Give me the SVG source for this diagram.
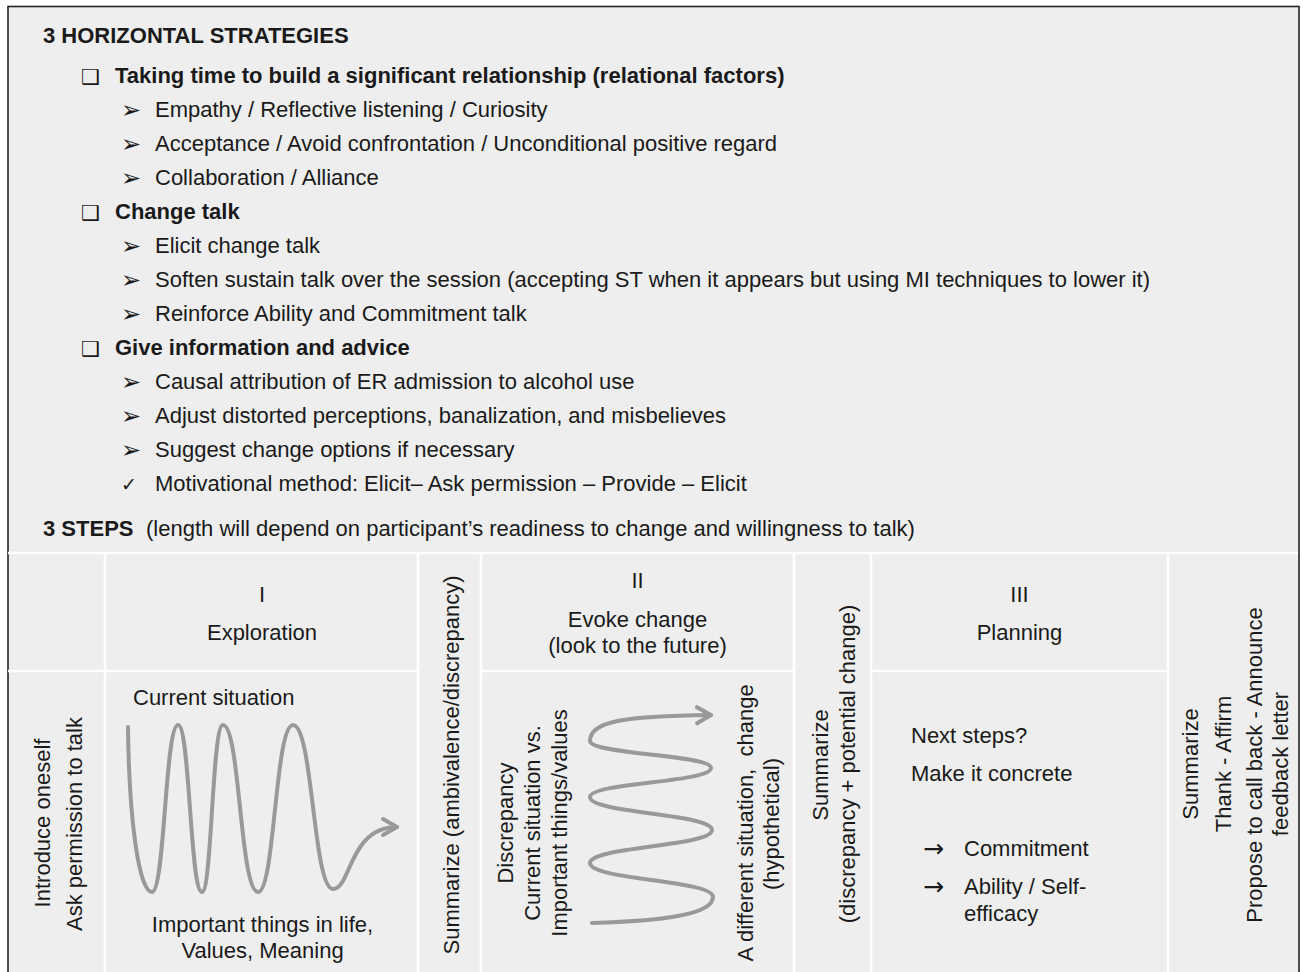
<svg xmlns="http://www.w3.org/2000/svg" width="1303" height="972" viewBox="0 0 1303 972">
<defs>
<style>
.t{font-family:"Liberation Sans",Arial,sans-serif;font-size:22px;fill:#1a1a1a}
.b{font-weight:bold}
.m{text-anchor:middle}
.sym{font-family:"DejaVu Sans",sans-serif;fill:#1a1a1a}
.box{font-size:21px}
.arw{font-size:24px}
.grid{stroke:#ffffff;stroke-width:2.5;fill:none}
.wave{fill:none;stroke:#999999;stroke-width:4;stroke-linecap:round;stroke-linejoin:round}
</style>
<marker id="arr" markerUnits="userSpaceOnUse" markerWidth="24" markerHeight="24" refX="16" refY="10" orient="auto" overflow="visible">
<path d="M2,2 L16,10 L2,18" fill="none" stroke="#999999" stroke-width="4" stroke-linecap="round" stroke-linejoin="round"/>
</marker>
</defs>
<rect x="0" y="0" width="1303" height="972" fill="#ffffff"/>
<rect x="8" y="6.5" width="1291" height="990" fill="#eeeeee" stroke="#222222" stroke-width="1.6"/>

<g id="strategies">
<text class="t b" x="43" y="42.5">3 HORIZONTAL STRATEGIES</text>
<g id="relational">
<text class="sym box" x="81" y="84">❑</text>
<text class="t b" x="115" y="83">Taking time to build a significant relationship (relational factors)</text>
<text class="sym arw" x="121" y="118">➢</text>
<text class="t" x="155" y="117">Empathy / Reflective listening / Curiosity</text>
<text class="sym arw" x="121" y="152">➢</text>
<text class="t" x="155" y="151">Acceptance / Avoid confrontation / Unconditional positive regard</text>
<text class="sym arw" x="121" y="186">➢</text>
<text class="t" x="155" y="185">Collaboration / Alliance</text>
</g>
<g id="changetalk">
<text class="sym box" x="81" y="220">❑</text>
<text class="t b" x="115" y="219">Change talk</text>
<text class="sym arw" x="121" y="254">➢</text>
<text class="t" x="155" y="253">Elicit change talk</text>
<text class="sym arw" x="121" y="288">➢</text>
<text class="t" x="155" y="287">Soften sustain talk over the session (accepting ST when it appears but using MI techniques to lower it)</text>
<text class="sym arw" x="121" y="322">➢</text>
<text class="t" x="155" y="321">Reinforce Ability and Commitment talk</text>
</g>
<g id="information">
<text class="sym box" x="81" y="356">❑</text>
<text class="t b" x="115" y="355">Give information and advice</text>
<text class="sym arw" x="121" y="390">➢</text>
<text class="t" x="155" y="389">Causal attribution of ER admission to alcohol use</text>
<text class="sym arw" x="121" y="424">➢</text>
<text class="t" x="155" y="423">Adjust distorted perceptions, banalization, and misbelieves</text>
<text class="sym arw" x="121" y="458">➢</text>
<text class="t" x="155" y="457">Suggest change options if necessary</text>
<text class="sym" x="121" y="491" font-size="19">✓</text>
<text class="t" x="155" y="491">Motivational method: Elicit– Ask permission – Provide – Elicit</text>
</g>
</g>

<g id="steps-title">
<text class="t b" x="43" y="536">3 STEPS</text>
<text class="t" x="146" y="536">(length will depend on participant’s readiness to change and willingness to talk)</text>
</g>

<g id="table-grid">
<line class="grid" x1="8" y1="553" x2="1298" y2="553"/>
<line class="grid" x1="105" y1="553" x2="105" y2="972"/>
<line class="grid" x1="418" y1="553" x2="418" y2="972"/>
<line class="grid" x1="481" y1="553" x2="481" y2="972"/>
<line class="grid" x1="794" y1="553" x2="794" y2="972"/>
<line class="grid" x1="871" y1="553" x2="871" y2="972"/>
<line class="grid" x1="1168" y1="553" x2="1168" y2="972"/>
<line class="grid" x1="8" y1="671" x2="418" y2="671"/>
<line class="grid" x1="481" y1="671" x2="794" y2="671"/>
<line class="grid" x1="871" y1="671" x2="1168" y2="671"/>
</g>

<g id="intro">
<text class="t m" transform="translate(50,823) rotate(-90)">Introduce oneself</text>
<text class="t m" transform="translate(82,824) rotate(-90)">Ask permission to talk</text>
</g>

<g id="step1-header">
<text class="t m" x="262" y="602">I</text>
<text class="t m" x="262" y="640">Exploration</text>
</g>
<g id="step1-body">
<text class="t" x="133" y="705">Current situation</text>
<text class="t m" x="262.5" y="932">Important things in life,</text>
<text class="t m" x="262.5" y="958">Values, Meaning</text>
</g>

<g id="summary1">
<text class="t m" transform="translate(458.5,765) rotate(-90)">Summarize (ambivalence/discrepancy)</text>
</g>

<g id="step2-header">
<text class="t m" x="637.5" y="588">II</text>
<text class="t m" x="637.5" y="627">Evoke change</text>
<text class="t m" x="637.5" y="653">(look to the future)</text>
</g>
<g id="step2-body">
<text class="t m" transform="translate(513,823) rotate(-90)">Discrepancy</text>
<text class="t m" transform="translate(540,823) rotate(-90)">Current situation vs.</text>
<text class="t m" transform="translate(567,823) rotate(-90)">Important things/values</text>
<text class="t m" xml:space="preserve" transform="translate(753,823) rotate(-90)">A different situation,  change</text>
<text class="t m" transform="translate(779,824) rotate(-90)">(hypothetical)</text>
</g>

<g id="summary2">
<text class="t m" transform="translate(828,765) rotate(-90)">Summarize</text>
<text class="t m" transform="translate(855,764) rotate(-90)">(discrepancy + potential change)</text>
</g>

<g id="step3-header">
<text class="t m" x="1019.5" y="602">III</text>
<text class="t m" x="1019.5" y="640">Planning</text>
</g>
<g id="step3-body">
<text class="t" x="911" y="743">Next steps?</text>
<text class="t" x="911" y="781">Make it concrete</text>
<text class="sym" x="923" y="857" font-size="25">→</text>
<text class="t" x="964" y="856">Commitment</text>
<text class="sym" x="923" y="895" font-size="25">→</text>
<text class="t" x="964" y="894">Ability / Self-</text>
<text class="t" x="964" y="921">efficacy</text>
</g>

<g id="closing">
<text class="t m" transform="translate(1198,764) rotate(-90)">Summarize</text>
<text class="t m" transform="translate(1231,764) rotate(-90)">Thank - Affirm</text>
<text class="t m" transform="translate(1262,765) rotate(-90)">Propose to call back - Announce</text>
<text class="t m" transform="translate(1288,764) rotate(-90)">feedback letter</text>
</g>

<g id="connectors">
<path class="wave" marker-end="url(#arr)" d="M128,727 C129,820 139,892 152,892 C165,892 165,725 178,725 C190,725 190,892 202,892 C212,892 212,725 223,725 C240,725 240,892 258,892 C275,892 275,725 293,725 C313,725 313,889 333,889 C351,889 349,827 397,827"/>
<path class="wave" marker-end="url(#arr)" d="M592,923 C660,921 713,915 713,897 C713,880 590,880 590,863 C590,846.5 712,846.5 712,830 C712,813.5 590,813.5 590,797 C590,782.5 711,782.5 711,768 C711,754.5 590,754.5 590,741 C590,722 620,716 711,715"/>
</g>
</svg>
